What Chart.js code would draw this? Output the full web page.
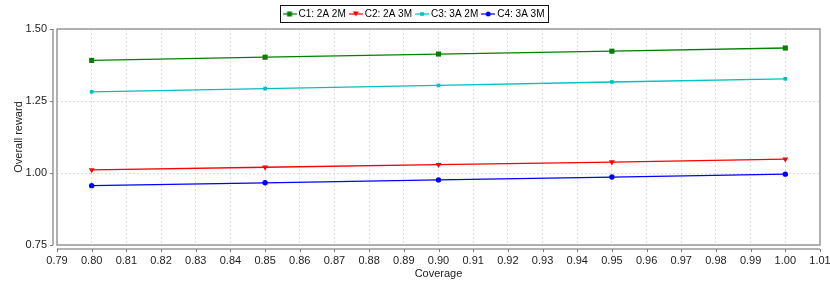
<!DOCTYPE html>
<html>
<head>
<meta charset="utf-8">
<script src="https://cdn.jsdelivr.net/npm/chart.js@4"></script>
<style>
  html, body { margin: 0; padding: 0; background: #fff; }
  #wrap { width: 830px; height: 288px; }
</style>
</head>
<body>
<div id="wrap"><canvas id="LineChart"></canvas></div>
<script>
var coverage = [0.80, 0.85, 0.90, 0.95, 1.00];
var c1 = [1.391, 1.402, 1.413, 1.423, 1.434];
var c2 = [1.011, 1.020, 1.029, 1.038, 1.048];
var c3 = [1.282, 1.293, 1.304, 1.316, 1.327];
var c4 = [0.956, 0.966, 0.976, 0.986, 0.996];
var seriesNames = ['C1: 2A 2M', 'C2: 2A 3M', 'C3: 3A 2M', 'C4: 3A 3M'];
var yTicks = [0.75, 1.00, 1.25, 1.50];

var colors = ['#008000', '#ff0000', '#00c0c0', '#0000ff'];
var markers = ['rect', 'triangle', 'rect', 'circle'];
var markerSize = [3.6, 3.4, 2.6, 2.7];

function pairs(ys) {
    var out = [];
    for (var i = 0; i < coverage.length; i++) out.push({x: coverage[i], y: ys[i]});
    return out;
}

// small legend icon: a short line with the marker on it
function legendIcon(i) {
    var c = document.createElement('canvas');
    c.width = 14; c.height = 8;
    var g = c.getContext('2d');
    g.strokeStyle = colors[i];
    g.fillStyle = colors[i];
    g.lineWidth = 1.2;
    g.beginPath(); g.moveTo(0, 4); g.lineTo(14, 4); g.stroke();
    if (markers[i] == 'rect') {
        var s = i == 2 ? 1.8 : 2.5;
        g.fillRect(7 - s, 4 - s, s * 2, s * 2);
    } else if (markers[i] == 'triangle') {
        g.beginPath(); g.moveTo(4, 1.5); g.lineTo(10, 1.5); g.lineTo(7, 6.5); g.closePath(); g.fill();
    } else {
        g.beginPath(); g.arc(7, 4, 2.5, 0, Math.PI * 2); g.fill();
    }
    return c;
}

var seriesData = [c1, c2, c3, c4];
var datasets = seriesData.map(function (d, i) {
    return {
        label: seriesNames[i],
        data: pairs(d),
        borderColor: colors[i],
        backgroundColor: colors[i],
        borderWidth: 1.3,
        pointStyle: markers[i],
        pointRadius: markerSize[i],
        pointRotation: markers[i] == 'triangle' ? 180 : 0,
        pointBorderWidth: 0,
        tension: 0
    };
});

var PLOT_LEFT = 57, PLOT_BOTTOM = 245;

var frame = {
    id: 'frame',
    afterDraw: function (chart) {
        var ctx = chart.ctx;
        var a = chart.chartArea;
        ctx.save();
        // plot box
        ctx.strokeStyle = '#999';
        ctx.lineWidth = 1.5;
        ctx.strokeRect(a.left, a.top, a.right - a.left, a.bottom - a.top);
        // axis lines, set a little away from the box
        var ax = a.left - 4, ay = a.bottom + 4;
        ctx.beginPath();
        ctx.moveTo(ax, a.top); ctx.lineTo(ax, a.bottom);
        ctx.moveTo(a.left, ay); ctx.lineTo(a.right, ay);
        ctx.stroke();
        // tick marks
        ctx.lineWidth = 1;
        ctx.strokeStyle = '#777';
        ctx.beginPath();
        chart.scales.x.ticks.forEach(function (t) {
            var px = Math.round(chart.scales.x.getPixelForValue(t.value)) + 0.5;
            ctx.moveTo(px, ay); ctx.lineTo(px, ay + 3);
        });
        chart.scales.y.ticks.forEach(function (t) {
            var py = Math.round(chart.scales.y.getPixelForValue(t.value)) + 0.5;
            ctx.moveTo(ax, py); ctx.lineTo(ax - 3, py);
        });
        ctx.stroke();
        // legend border
        var boxes = chart.legend.legendHitBoxes;
        if (boxes && boxes.length) {
            var l = Infinity, r = -Infinity, cy = 0;
            boxes.forEach(function (h) {
                l = Math.min(l, h.left); r = Math.max(r, h.left + h.width);
                cy += h.top + h.height / 2;
            });
            cy = cy / boxes.length;
            ctx.strokeStyle = '#111';
            ctx.lineWidth = 1;
            ctx.strokeRect(Math.round(l - 6) + 0.5, Math.round(cy - 9) + 0.5, Math.round(r - l + 9), 17);
        }
        ctx.restore();
    }
};

var config = {
    type: 'line',
    data: { datasets: datasets },
    options: {
        responsive: true,
        maintainAspectRatio: false,
        animation: false,
        layout: { padding: { left: 0, right: 0, top: 3, bottom: 4 } },
        plugins: {
            tooltip: { enabled: false },
            legend: {
                position: 'top',
                labels: {
                    font: { family: 'Liberation Sans', size: 10 },
                    color: '#000',
                    usePointStyle: true,
                    pointStyleWidth: 8,
                    padding: 6,
                    boxHeight: 8,
                    generateLabels: function (chart) {
                        return seriesNames.map(function (n, i) {
                            return {
                                text: n,
                                pointStyle: legendIcon(i),
                                fillStyle: colors[i],
                                strokeStyle: colors[i],
                                lineWidth: 0,
                                datasetIndex: i,
                                hidden: false
                            };
                        });
                    }
                }
            }
        },
        scales: {
            x: {
                type: 'linear',
                min: 0.79,
                max: 1.01,
                border: { display: false, dash: [2, 2] },
                grid: { color: '#dcdcdc', drawTicks: false },
                afterFit: function (scale) {
                    scale.height = 288 - 4 - PLOT_BOTTOM;
                    scale.paddingRight = 10;
                },
                ticks: {
                    stepSize: 0.01,
                    padding: 9,
                    autoSkip: false,
                    maxRotation: 0,
                    color: '#222',
                    font: { family: 'Liberation Sans', size: 11 },
                    callback: function (v) { return Number(v).toFixed(2); }
                },
                title: {
                    display: true,
                    text: 'Coverage',
                    color: '#222',
                    font: { family: 'Liberation Sans', size: 11 },
                    padding: { top: 0, bottom: 3.5 }
                }
            },
            y: {
                min: 0.75,
                max: 1.50,
                border: { display: false, dash: [2, 2] },
                grid: { color: '#dcdcdc', drawTicks: false },
                afterFit: function (scale) { scale.width = PLOT_LEFT; },
                afterBuildTicks: function (scale) {
                    scale.ticks = yTicks.map(function (v) { return { value: v }; });
                },
                ticks: {
                    padding: 10,
                    color: '#222',
                    font: { family: 'Liberation Sans', size: 11 },
                    callback: function (v) { return Number(v).toFixed(2); }
                },
                title: {
                    display: true,
                    text: 'Overall reward',
                    color: '#222',
                    font: { family: 'Liberation Sans', size: 11 },
                    padding: { top: 12, bottom: 0 }
                }
            }
        }
    },
    plugins: [frame]
};

var lineChart = new Chart(document.getElementById('LineChart'), config);
</script>
</body>
</html>
